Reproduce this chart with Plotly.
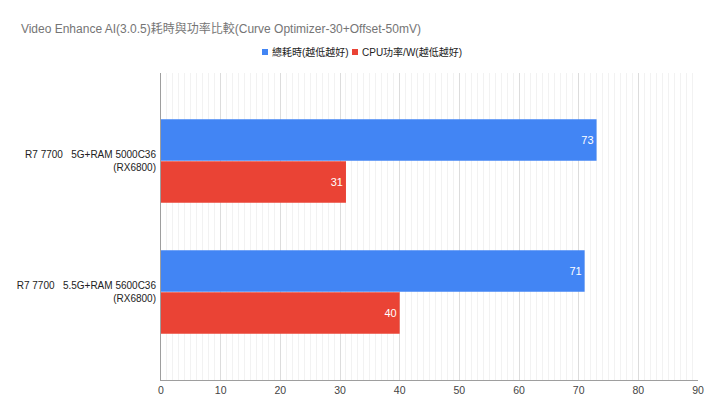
import plotly.graph_objects as go

categories = ["R7 7700   5G+RAM 5000C36<br>(RX6800)", "R7 7700   5.5G+RAM 5600C36<br>(RX6800)"]
total_time = [73, 71]
cpu_power = [31, 40]
series_names = ["總耗時(越低越好)", "CPU功率/W(越低越好)"]
series_colors = ["#4285f4", "#ea4335"]
x_ticks = [0, 10, 20, 30, 40, 50, 60, 70, 80, 90]

FONT = "Liberation Sans, Arial, Noto Sans CJK TC, sans-serif"

fig = go.Figure()
for name, vals, color in [(series_names[0], total_time, series_colors[0]), (series_names[1], cpu_power, series_colors[1])]:
    fig.add_trace(go.Bar(
        y=categories, x=vals, name=name, orientation="h",
        marker=dict(color=color, line=dict(width=0)),
        text=[str(v) for v in vals], textposition="inside", insidetextanchor="end",
        textfont=dict(color="white", size=11, family=FONT),
        showlegend=False,
    ))

# custom legend (small squares + labels), centred above the plot
legend_x = [262, 352]
for i, (name, color) in enumerate(zip(series_names, series_colors)):
    x0 = legend_x[i]
    fig.add_shape(type="rect", xref="paper", yref="paper",
                  x0=(x0 - 161) / 537, x1=(x0 + 6 - 161) / 537,
                  y0=(380 - 55) / 307, y1=(380 - 49) / 307,
                  fillcolor=color, line=dict(width=0))
    fig.add_annotation(xref="paper", yref="paper", x=(x0 + 8 - 161) / 537, y=(380 - 52) / 307,
                       text=name, showarrow=False, xanchor="left", yanchor="middle",
                       font=dict(size=10, color="#222222", family=FONT))

fig.update_layout(
    width=720, height=417,
    margin=dict(l=161, r=22, t=73, b=37),
    paper_bgcolor="white", plot_bgcolor="white",
    barmode="group", bargap=0.359, bargroupgap=0.015,
    font=dict(family=FONT, size=11, color="#222222"),
    title=dict(text="Video Enhance AI(3.0.5)耗時與功率比較(Curve Optimizer-30+Offset-50mV)",
               x=0.029, xanchor="left", y=0.93, yanchor="middle",
               font=dict(size=12, color="#757575", family=FONT)),
    showlegend=False,
)
fig.update_xaxes(range=[0, 90], tickvals=x_ticks, ticktext=[str(t) for t in x_ticks],
                 showgrid=True, gridcolor="#dcdcdc", gridwidth=1,
                 minor=dict(dtick=1, showgrid=True, gridcolor="#f2f2f2", gridwidth=1),
                 zeroline=False, showline=True, linecolor="#9e9e9e", linewidth=1,
                 tickfont=dict(size=10.5, color="#444444"), ticks="", fixedrange=True,
                 automargin=False)
fig.update_yaxes(type="category", categoryarray=categories, range=[1.672, -0.672],
                 showgrid=False, zeroline=False, showline=True, linecolor="#9e9e9e", linewidth=1,
                 tickfont=dict(size=10, color="#222222"), ticks="", ticklabelstandoff=2,
                 automargin=False)

fig.write_html("out.html")
